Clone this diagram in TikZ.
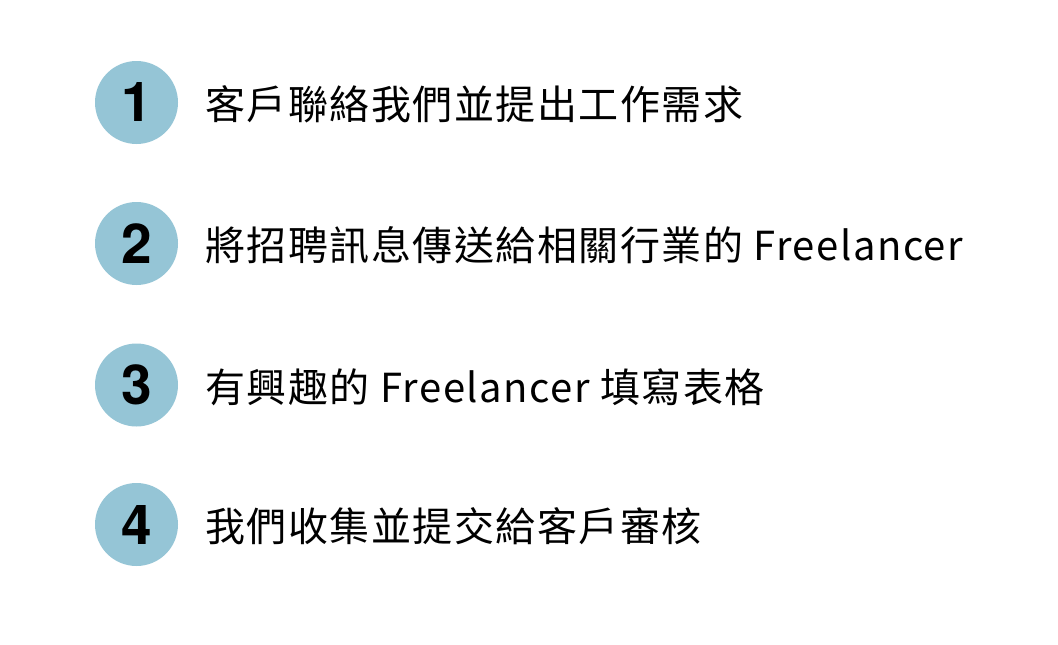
\documentclass[tikz,border=0pt]{standalone}
\usepackage{fontspec}
\setmainfont{Noto Sans CJK TC}[LetterSpace=3.75]
\newfontfamily\digitfont{TeX Gyre Heros}
\definecolor{circblue}{HTML}{95C5D6}
\begin{document}
\begin{tikzpicture}[x=1pt,y=1pt,
  numcirc/.style={circle,fill=circblue,minimum size=83pt,inner sep=0pt,font=\digitfont\bfseries\fontsize{55}{55}\selectfont},
  steptext/.style={anchor=west,inner sep=0pt,font=\fontsize{40}{40}\selectfont}]
\useasboundingbox[fill=white] (0,0) rectangle (1058,-645);
\node[numcirc] (c1) at (136.5,-102.5) {1};
\node[numcirc] (c2) at (136.5,-243.5) {2};
\node[numcirc] (c3) at (136.5,-385) {3};
\node[numcirc] (c4) at (136.5,-524.5) {4};
\node[steptext] (t1) at (205,-104.5) {客戶聯絡我們並提出工作需求};
\node[steptext] (t2) at (205,-245.5) {將招聘訊息傳送給相關行業的 Freelancer};
\node[steptext] (t3) at (205,-387) {有興趣的 Freelancer 填寫表格};
\node[steptext] (t4) at (205,-526.5) {我們收集並提交給客戶審核};
\end{tikzpicture}
\end{document}
